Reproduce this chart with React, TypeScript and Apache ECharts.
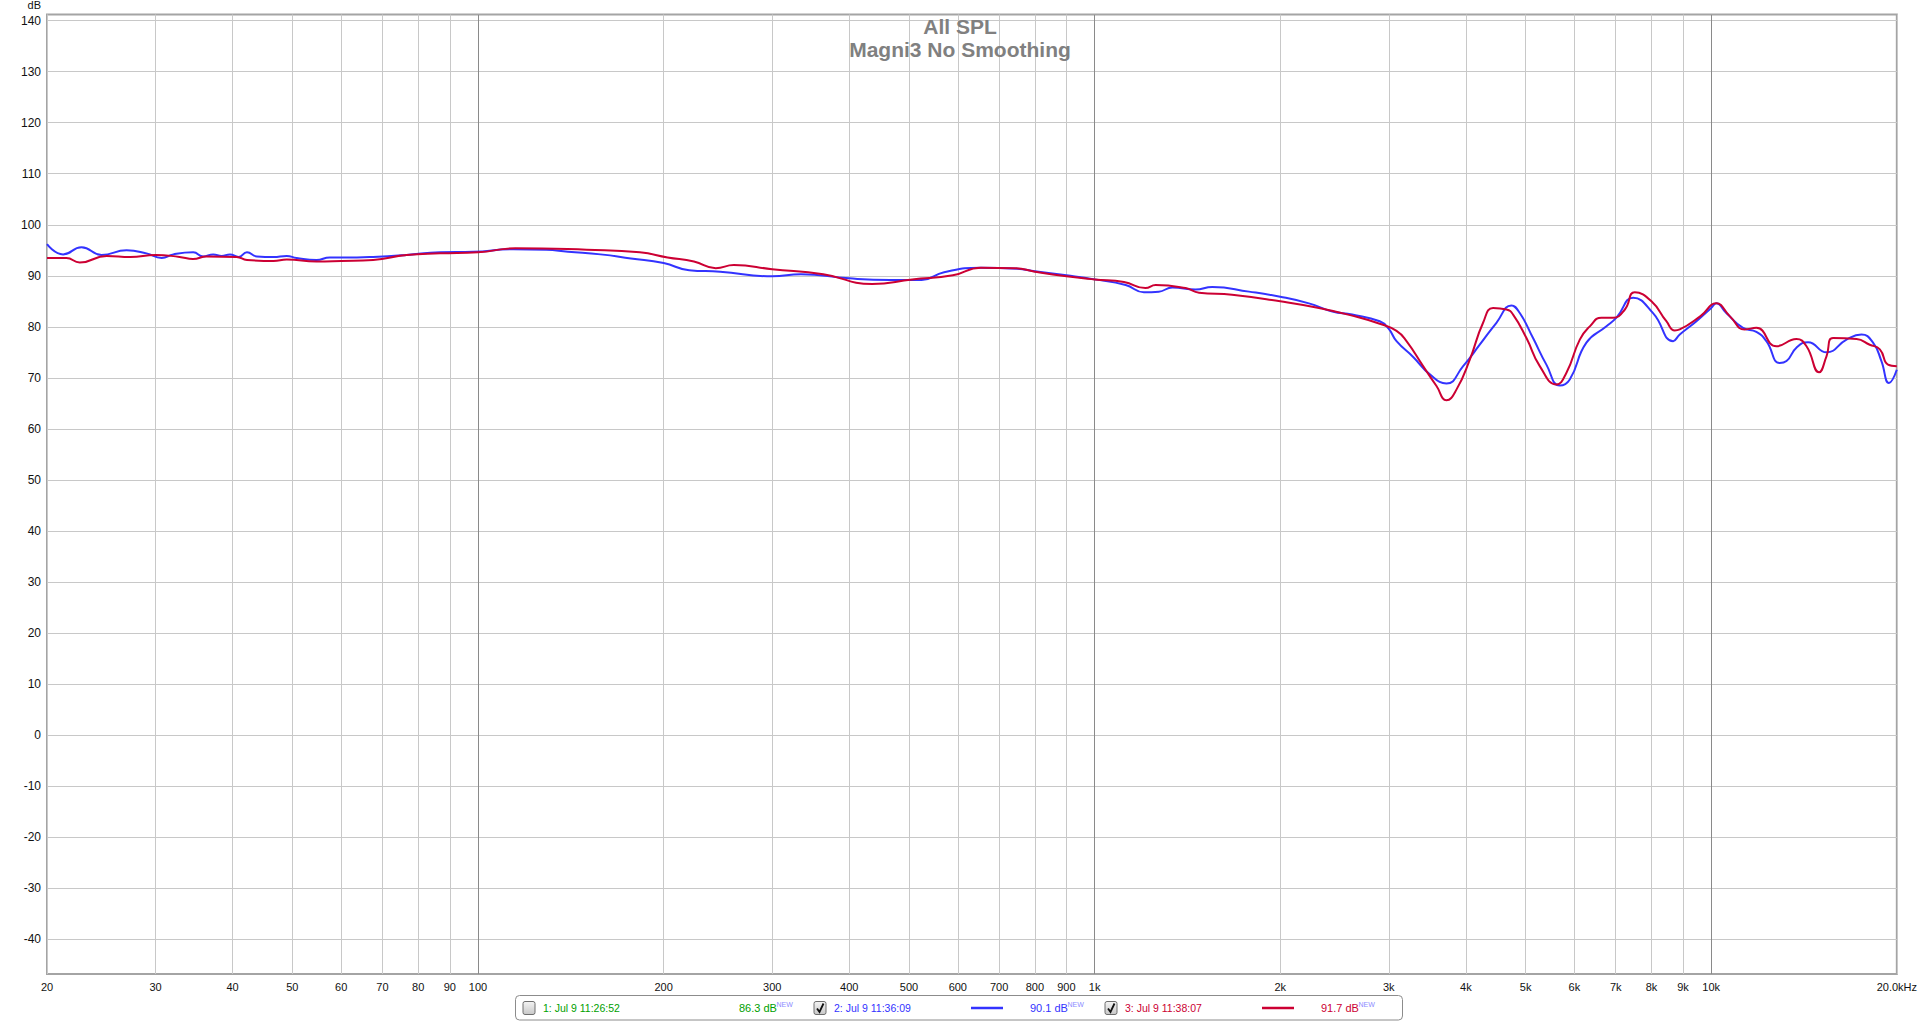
import React, { useEffect, useRef } from 'react';
import * as echarts from 'echarts';

// ---- data ----
const blueFreq = [20, 21.24, 22.75, 24.52, 26.92, 29.0, 30.69, 32.06, 34.53, 35.84, 37.2, 38.4, 39.6, 40.9, 42.2, 43.8, 46.6, 48.95, 50.8, 54.7, 57.5, 63.6, 67.6, 76.6, 86.8, 98.2, 114, 129, 140, 158, 177, 200, 220, 247, 300, 334, 400, 466, 524, 570, 654, 750, 800, 900, 1000, 1123, 1202, 1271, 1337, 1458, 1552, 1780, 2000, 2226, 2430, 2616, 2900, 3000, 3088, 3286, 3497, 3721, 3960, 4213, 4484, 4742, 4893, 5141, 5404, 5680, 5897, 6275, 6763, 7020, 7471, 8048, 8674, 8892, 9464, 10000, 10190, 10580, 11260, 11838, 12288, 12914, 13246, 13746, 14356, 15380, 16574, 17528, 18300, 18882, 19424, 20000];
const blueDb = [96.2, 94.2, 95.6, 94.1, 95.0, 94.4, 93.5, 94.2, 94.6, 93.8, 94.2, 93.9, 94.2, 93.7, 94.6, 93.8, 93.7, 93.9, 93.5, 93.1, 93.6, 93.6, 93.7, 94.1, 94.6, 94.7, 95.2, 95.1, 94.7, 94.2, 93.4, 92.5, 91.1, 90.8, 89.9, 90.3, 89.5, 89.2, 89.2, 90.7, 91.6, 91.4, 90.9, 90.1, 89.3, 88.2, 86.8, 86.9, 87.7, 87.3, 87.8, 86.9, 85.9, 84.6, 83.0, 82.4, 81.1, 79.6, 77.2, 74.1, 70.7, 68.9, 72.3, 76.5, 80.8, 84.2, 82.7, 77.8, 72.6, 68.5, 69.7, 76.9, 80.1, 81.8, 85.7, 82.7, 77.2, 78.5, 81.1, 83.7, 84.6, 82.7, 79.8, 79.0, 77.2, 72.9, 73.3, 75.9, 77.0, 75.0, 77.5, 78.5, 76.9, 73.3, 69.0, 71.6];

const redFreq = [20, 21.5, 22.6, 25, 27.3, 30, 32.8, 34.5, 36.3, 40.6, 42.2, 46.6, 48.95, 54.7, 60, 67.6, 76.6, 86.8, 100, 115, 150, 183, 203, 224, 243, 260, 300, 363, 436, 506, 589, 654, 743, 800, 900, 1000, 1116, 1209, 1256, 1404, 1477, 1671, 2000, 2311, 2616, 2900, 3088, 3205, 3410, 3585, 3721, 3862, 4060, 4266, 4428, 4655, 4772, 5016, 5272, 5610, 5824, 6122, 6356, 6636, 6934, 7244, 7516, 8000, 8458, 8727, 8892, 9608, 10190, 10716, 11332, 11838, 12758, 13746, 14274, 14958, 15380, 15760, 17208, 18076, 18772, 19352, 20000];
const redDb = [93.5, 93.5, 92.6, 93.9, 93.7, 94.1, 93.7, 93.3, 93.8, 93.7, 93.1, 92.9, 93.2, 92.8, 92.9, 93.1, 94.1, 94.4, 94.6, 95.4, 95.1, 94.6, 93.6, 92.8, 91.5, 92.1, 91.3, 90.3, 88.4, 89.3, 90.1, 91.6, 91.5, 90.8, 89.9, 89.3, 88.8, 87.6, 88.2, 87.6, 86.7, 86.3, 85.0, 83.7, 82.2, 80.6, 79.2, 77.2, 72.3, 68.4, 65.6, 67.7, 73.6, 80.8, 83.7, 83.4, 82.4, 77.8, 72.3, 68.7, 71.0, 77.5, 80.1, 81.8, 81.8, 83.4, 86.8, 85.0, 81.1, 79.3, 79.5, 82.1, 84.6, 82.1, 79.5, 79.8, 76.2, 77.6, 76.2, 71.1, 74.2, 77.8, 77.6, 76.5, 75.6, 72.6, 72.3];

const xTickValues = [20, 30, 40, 50, 60, 70, 80, 90, 100, 200, 300, 400, 500, 600, 700, 800, 900, 1000, 2000, 3000, 4000, 5000, 6000, 7000, 8000, 9000, 10000, 20000];
const xTickLabels = ['20', '30', '40', '50', '60', '70', '80', '90', '100', '200', '300', '400', '500', '600', '700', '800', '900', '1k', '2k', '3k', '4k', '5k', '6k', '7k', '8k', '9k', '10k', '20.0kHz'];
const xMajorValues = [100, 1000, 10000];
const yTickValues = [-40, -30, -20, -10, 0, 10, 20, 30, 40, 50, 60, 70, 80, 90, 100, 110, 120, 130, 140];

const titleLines = ['All SPL', 'Magni3 No Smoothing'];
const legendNames = ['1: Jul 9 11:26:52', '2: Jul 9 11:36:09', '3: Jul 9 11:38:07'];
const legendLevels = ['86.3 dB', '90.1 dB', '91.7 dB'];
const legendColors = ['#00a000', '#3333ff', '#cc0033'];
const legendChecked = [false, true, true];
const legendHasLine = [false, true, true];

const FONT = '"Liberation Sans", Arial, sans-serif';

function buildLegend(): any[] {
  const els: any[] = [];
  els.push({
    type: 'rect',
    shape: { x: 515.5, y: 995.5, width: 887, height: 24.5, r: 4 },
    style: { fill: '#ffffff', stroke: '#8c8c8c', lineWidth: 1 },
    z: 10,
  });
  const starts = [529, 820, 1111];
  for (let i = 0; i < legendNames.length; i++) {
    const cx = starts[i];
    const cy = 1008;
    els.push({
      type: 'rect',
      shape: { x: cx - 6, y: cy - 6.5, width: 12, height: 13, r: 2 },
      style: {
        fill: new echarts.graphic.LinearGradient(0, 0, 0, 1, [
          { offset: 0, color: '#f4f4f4' },
          { offset: 1, color: '#c8c8c8' },
        ]),
        stroke: '#6e6e6e',
        lineWidth: 1,
      },
      z: 11,
    });
    if (legendChecked[i]) {
      els.push({
        type: 'polyline',
        shape: { points: [[cx - 3, cy + 0.5], [cx - 0.5, cy + 4], [cx + 3.5, cy - 4.5]] },
        style: { stroke: '#111', lineWidth: 1.8, fill: null },
        z: 12,
      });
    }
    els.push({
      type: 'text',
      x: cx + 14,
      y: cy,
      style: { text: legendNames[i], fill: legendColors[i], font: `10.5px ${FONT}`, textVerticalAlign: 'middle' },
      z: 11,
    });
    if (legendHasLine[i]) {
      els.push({
        type: 'line',
        shape: { x1: cx + 151, y1: cy, x2: cx + 183, y2: cy },
        style: { stroke: legendColors[i], lineWidth: 2.5 },
        z: 11,
      });
    }
    els.push({
      type: 'text',
      x: cx + 210,
      y: cy,
      style: { text: legendLevels[i], fill: legendColors[i], font: `11px ${FONT}`, textVerticalAlign: 'middle' },
      z: 11,
    });
    els.push({
      type: 'text',
      x: cx + 247.5,
      y: cy - 4,
      style: { text: 'NEW', fill: '#8c8cff', font: `7px ${FONT}`, textVerticalAlign: 'middle' },
      z: 11,
    });
  }
  return els;
}

export default function App() {
  const ref = useRef<HTMLDivElement>(null);
  useEffect(() => {
    if (!ref.current) return;
    const chart = echarts.init(ref.current, null, { renderer: 'svg' });
    const labelMap: Record<string, string> = {};
    xTickValues.forEach((v, i) => (labelMap[String(v)] = xTickLabels[i]));
    const fmt = (v: number) => {
      const r = Math.round(v);
      return labelMap[String(r)] ?? '';
    };
    const option: any = {
      animation: false,
      backgroundColor: '#ffffff',
      grid: {
        left: 47,
        right: 23,
        top: 14.5,
        bottom: 48,
        show: true,
        borderColor: '#a4a4a4',
        borderWidth: 2,
        backgroundColor: 'transparent',
      },
      xAxis: [
        {
          type: 'log',
          logBase: 10,
          min: 20,
          max: 20000,
          position: 'bottom',
          axisLine: { show: false },
          axisTick: { show: false, customValues: xTickValues },
          axisLabel: {
            customValues: xTickValues,
            formatter: (v: number) => fmt(v),
            color: '#111',
            fontSize: 11,
            fontFamily: FONT,
            margin: 7,
            hideOverlap: false,
          },
          splitLine: { show: true, lineStyle: { color: '#c8c8c8', width: 1 } },
        },
        {
          type: 'log',
          logBase: 10,
          min: 20,
          max: 20000,
          position: 'bottom',
          axisLine: { show: false },
          axisTick: { show: false, customValues: xMajorValues },
          axisLabel: { show: false, customValues: xMajorValues },
          splitLine: { show: true, lineStyle: { color: '#8a8a8a', width: 1 } },
        },
      ],
      yAxis: {
        type: 'value',
        min: -46.8,
        max: 141.2,
        axisLine: { show: false },
        axisTick: { show: false, customValues: yTickValues },
        axisLabel: {
          customValues: yTickValues,
          color: '#111',
          fontSize: 12,
          fontFamily: FONT,
          margin: 6,
        },
        splitLine: { show: true, lineStyle: { color: '#c8c8c8', width: 1 } },
      },
      series: [
        {
          type: 'line',
          xAxisIndex: 0,
          data: blueFreq.map((f, i) => [f, blueDb[i]]),
          showSymbol: false,
          smooth: 0.5,
          lineStyle: { color: '#3333ff', width: 2 },
          z: 3,
        },
        {
          type: 'line',
          xAxisIndex: 0,
          data: redFreq.map((f, i) => [f, redDb[i]]),
          showSymbol: false,
          smooth: 0.5,
          lineStyle: { color: '#cc0033', width: 2 },
          z: 4,
        },
      ],
      graphic: [
        {
          type: 'text',
          x: 960,
          y: 26,
          style: { text: titleLines[0], fill: '#808080', font: `bold 21px ${FONT}`, textAlign: 'center', textVerticalAlign: 'middle' },
          z: 20,
        },
        {
          type: 'text',
          x: 960,
          y: 49.5,
          style: { text: titleLines[1], fill: '#808080', font: `bold 21px ${FONT}`, textAlign: 'center', textVerticalAlign: 'middle' },
          z: 20,
        },
        {
          type: 'text',
          x: 41,
          y: 5,
          style: { text: 'dB', fill: '#111', font: `11px ${FONT}`, textAlign: 'right', textVerticalAlign: 'middle' },
          z: 20,
        },
        ...buildLegend(),
      ],
    };
    chart.setOption(option);
    return () => chart.dispose();
  }, []);
  return <div ref={ref} style={{ position: 'fixed', left: 0, top: 0, width: 1920, height: 1022 }} />;
}
